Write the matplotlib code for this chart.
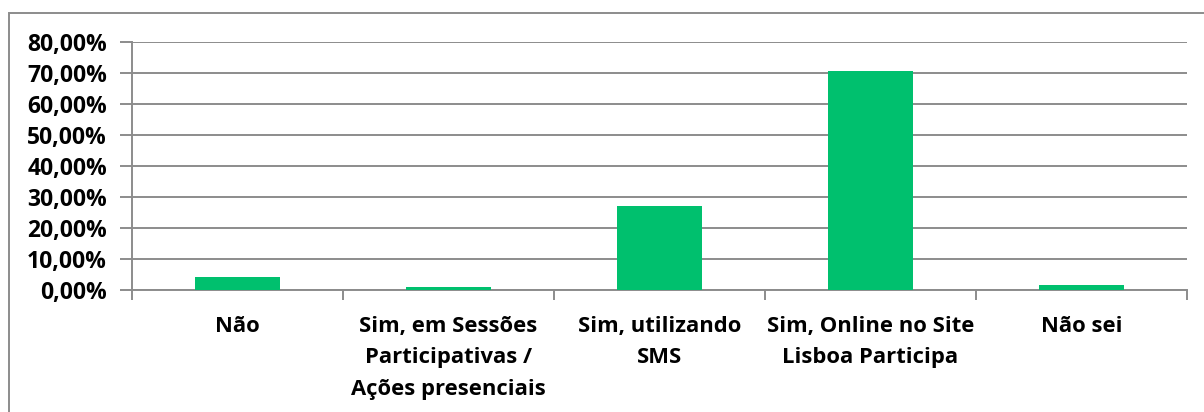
import matplotlib.pyplot as plt
from matplotlib.patches import Rectangle
from matplotlib.ticker import FuncFormatter, MultipleLocator

categories = ["Não", "Sim, em Sessões\nParticipativas /\nAções presenciais",
              "Sim, utilizando\nSMS", "Sim, Online no Site\nLisboa Participa", "Não sei"]
values = [4.1, 1.0, 27.1, 70.6, 1.6]

plt.rcParams['font.family'] = ['Open Sans', 'DejaVu Sans']
grey = '#8c8c8c'

fig = plt.figure(figsize=(12.04, 4.12), dpi=100)
ax = fig.add_axes([132 / 1204, 1 - 290 / 412, (1187 - 132) / 1204, 248 / 412])

x = list(range(len(categories)))
ax.bar(x, values, width=0.4, color='#00C06E', zorder=3)

ax.set_xlim(-0.5, len(categories) - 0.5)
ax.set_ylim(0, 80)
ax.yaxis.set_major_locator(MultipleLocator(10))
ax.yaxis.set_major_formatter(FuncFormatter(lambda v, p: f"{v:.2f}%".replace('.', ',')))
ax.grid(axis='y', color=grey, linewidth=1.4, zorder=0)

ax.set_xticks([i - 0.5 for i in range(len(categories) + 1)], minor=False)
ax.set_xticklabels([])
ax.set_xticks(x, minor=True)
ax.set_xticklabels(categories, minor=True, fontsize=15.8, fontweight='bold',
                   linespacing=1.63, va='top')
ax.tick_params(axis='x', which='minor', length=0, pad=19)
ax.tick_params(axis='x', which='major', length=7, width=1.4, color=grey, direction='out')
ax.tick_params(axis='y', length=9, width=1.4, color=grey, labelsize=16.5, pad=9)
for lab in ax.get_yticklabels():
    lab.set_fontweight('bold')

for side in ['top', 'right']:
    ax.spines[side].set_visible(False)
for side in ['left', 'bottom']:
    ax.spines[side].set_color(grey)
    ax.spines[side].set_linewidth(1.4)

fig.patches.append(Rectangle((8.5 / 1204, -0.1), 1.2, 1 - 12.5 / 412 + 0.1,
                             transform=fig.transFigure, fill=False,
                             edgecolor=grey, linewidth=1.4))

fig.savefig('out.png', dpi=100)
